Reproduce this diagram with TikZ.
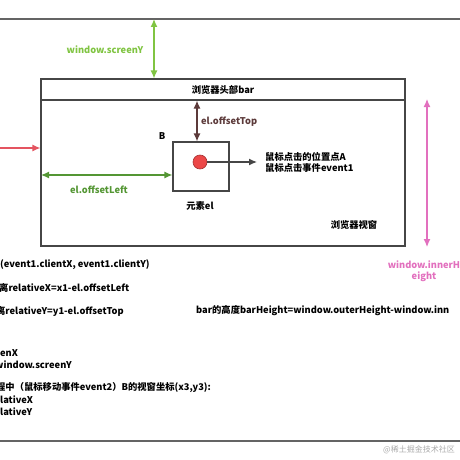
\documentclass[tikz,border=0pt]{standalone}
\usepackage{fontspec}
\setmainfont{Noto Sans CJK SC}
\usetikzlibrary{arrows.meta}
\definecolor{lgreen}{RGB}{128,196,66}
\definecolor{dgreen}{RGB}{84,150,52}
\definecolor{brownc}{RGB}{92,58,58}
\definecolor{pinkc}{RGB}{226,112,190}
\definecolor{redc}{RGB}{228,84,96}
\definecolor{dotred}{RGB}{236,72,72}
\definecolor{linegray}{RGB}{100,100,100}
\definecolor{boxgray}{RGB}{70,70,70}
\definecolor{wm}{RGB}{170,170,170}
\begin{document}
\begin{tikzpicture}[x=1pt,y=-1pt,
  txt/.style={font=\bfseries\fontsize{9.3}{11.5}\selectfont, inner sep=0pt},
  ltxt/.style={txt, anchor=west},
  boxst/.style={draw=boxgray, line width=1.2pt, inner sep=0pt},
  arr/.style={line width=1.2pt, -{Latex[length=8pt,width=7pt]}},
  darr/.style={line width=1.2pt, {Latex[length=8pt,width=7pt]}-{Latex[length=8pt,width=7pt]}},
  sep/.style={draw=linegray, line width=1.3pt}]
\useasboundingbox (0,0) rectangle (460,460);
% separators
\coordinate (t1) at (0,19);
\coordinate (t2) at (460,19);
\coordinate (b1) at (0,441);
\coordinate (b2) at (460,441);
\draw[sep] (t1) -- (t2);
\draw[sep] (b1) -- (b2);
% browser window
\node[boxst, minimum width=364pt, minimum height=167pt] (win) at (223,162.5) {};
\node[boxst, minimum width=364pt, minimum height=21pt, txt] (bar) at (223,89.5) {浏览器头部bar};
\node[txt] (view) at (354,225) {浏览器视窗};
% element
\node[boxst, minimum width=56pt, minimum height=49pt] (el) at (201,166.5) {};
\node[circle, draw=dotred!70!black, fill=dotred, line width=0.6pt, minimum size=14pt, inner sep=0pt] (dot) at (200,162) {};
\node[txt] (B) at (162,136) {B};
\node[txt] (elname) at (200,206) {元素el};
% screenY
\coordinate (sy) at (154,19);
\draw[darr, lgreen] (sy) -- (sy |- win.north);
\node[txt, text=lgreen] (sylab) at (105,50) {window.screenY};
% innerHeight
\coordinate (ih1) at (427,99);
\coordinate (ih2) at (427,247);
\draw[darr, pinkc] (ih1) -- (ih2);
\node[txt, text=pinkc, align=center] (ihlab) at (424,271) {window.innerH\\eight};
% red arrow
\coordinate (ra) at (0,148);
\draw[arr, redc] (ra) -- (ra -| win.west);
% offsetLeft
\coordinate (ol) at (41,175);
\draw[darr, dgreen] (ol) -- (ol -| el.west);
\node[txt, text=dgreen] (ollab) at (99,190) {el.offsetLeft};
% offsetTop
\coordinate (ot) at (197,0);
\draw[darr, brownc] (ot |- bar.south) -- (ot |- el.north);
\node[ltxt, text=brownc] (otlab) at (201,122) {el.offsetTop};
% click point
\coordinate (ca) at (257,162);
\draw[arr, boxgray] (dot.east) -- (ca);
\node[txt, anchor=west, align=left] (clab) at (265,162.5) {鼠标点击的位置点A\\鼠标点击事件event1};
% bottom texts
\node[ltxt] (l1) at (0,265) {(event1.clientX, event1.clientY)};
\node[ltxt] (l2) at (-1,288) {离relativeX=x1-el.offsetLeft};
\node[ltxt] (l3) at (-4,311) {离relativeY=y1-el.offsetTop};
\node[ltxt] (l3b) at (196,311) {bar的高度barHeight=window.outerHeight-window.inn};
\node[ltxt] (l4) at (0,353) {enX};
\node[ltxt] (l5) at (-5,365) {window.screenY};
\node[ltxt] (l6) at (-4,388) {程中（鼠标移动事件event2）B的视窗坐标(x3,y3):};
\node[ltxt] (l7) at (0,400) {lativeX};
\node[ltxt] (l8) at (0,412) {lativeY};
\node[txt, font=\fontsize{8}{10}\selectfont, text=wm, anchor=east] (wmk) at (455,450) {@稀土掘金技术社区};
\end{tikzpicture}
\end{document}
